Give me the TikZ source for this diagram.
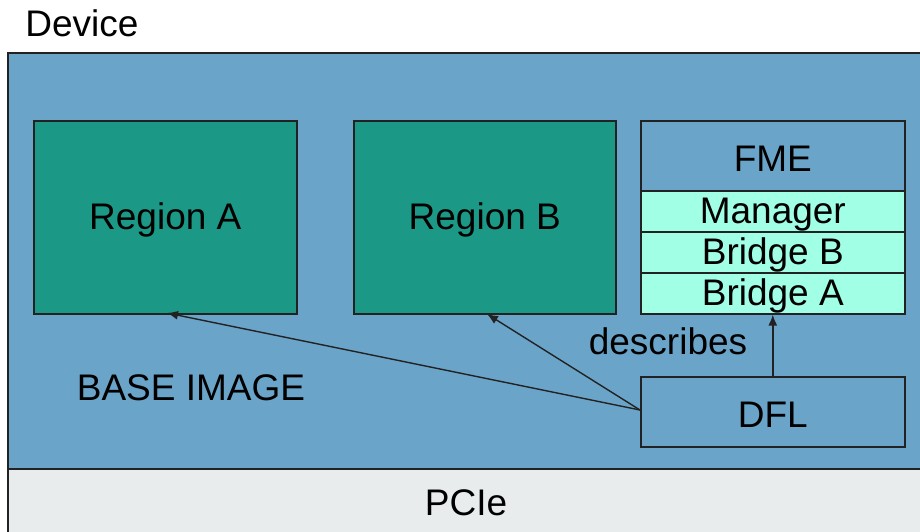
\documentclass[tikz,border=0pt]{standalone}
\usepackage{fontspec}
\setmainfont{Liberation Sans}
\usetikzlibrary{arrows.meta}
\definecolor{devblue}{HTML}{6AA4C9}
\definecolor{regteal}{HTML}{1B9986}
\definecolor{mint}{HTML}{A1FFE6}
\definecolor{pcigray}{HTML}{E8ECEC}
\definecolor{edge}{HTML}{222222}
\tikzset{
  txt/.style={font=\fontsize{37}{42}\selectfont, inner sep=0pt, yshift=-3pt},
  boxstyle/.style={draw=edge, line width=1.6pt, anchor=north west, inner sep=0pt},
  region/.style={boxstyle, fill=regteal},
  fmebox/.style={boxstyle, fill=devblue},
  mintbox/.style={boxstyle, fill=mint},
  conn/.style={draw=edge, line width=1.4pt, -{Latex[length=11pt,width=9pt]}}
}
\begin{document}
\begin{tikzpicture}[x=1pt,y=-1pt]
\useasboundingbox (0,0) rectangle (920,531);
\clip (0,0) rectangle (920,531);
\fill[white] (0,0) rectangle (920,531);
% device and pcie
\node[boxstyle, fill=devblue, minimum width=930pt, minimum height=416pt] (dev) at (7,52) {};
\node[boxstyle, fill=pcigray, minimum width=930pt, minimum height=80pt] (pcie) at (7,468) {};
\node[txt] (pcietxt) at (466,500) {PCIe};
\node[txt] (devtxt) at (82,20) {Device};
% regions
\node[region, minimum width=263pt, minimum height=193pt] (ra) at (33,120) {};
\node[txt] at (ra.center) {Region A};
\node[region, minimum width=262pt, minimum height=193pt] (rb) at (353,120) {};
\node[txt] at (rb.center) {Region B};
% FME stack
\node[fmebox, minimum width=264pt, minimum height=70pt] (fme) at (640,120) {};
\node[txt] at (fme.center) {FME};
\node[mintbox, minimum width=264pt, minimum height=41pt] (mgr) at (640,190) {};
\node[txt] at (mgr.center) {Manager};
\node[mintbox, minimum width=264pt, minimum height=41pt] (bb) at (640,231) {};
\node[txt] at (bb.center) {Bridge B};
\node[mintbox, minimum width=264pt, minimum height=41pt] (ba) at (640,272) {};
\node[txt] at (ba.center) {Bridge A};
% DFL
\node[fmebox, minimum width=264pt, minimum height=70pt] (dfl) at (640,376) {};
\node[txt] at (dfl.center) {DFL};
% labels
\node[txt] (desc) at (668,338) {describes};
\node[txt] (base) at (191,385) {BASE IMAGE};
% connectors
\coordinate (dflw) at (640,410);
\coordinate (ratip) at (167,313);
\coordinate (rbtip) at (487,314);
\draw[conn] (dflw) -- (ratip);
\draw[conn] (dflw) -- (rbtip);
\draw[conn] (dfl.north) -- (ba.south);
\end{tikzpicture}
\end{document}
